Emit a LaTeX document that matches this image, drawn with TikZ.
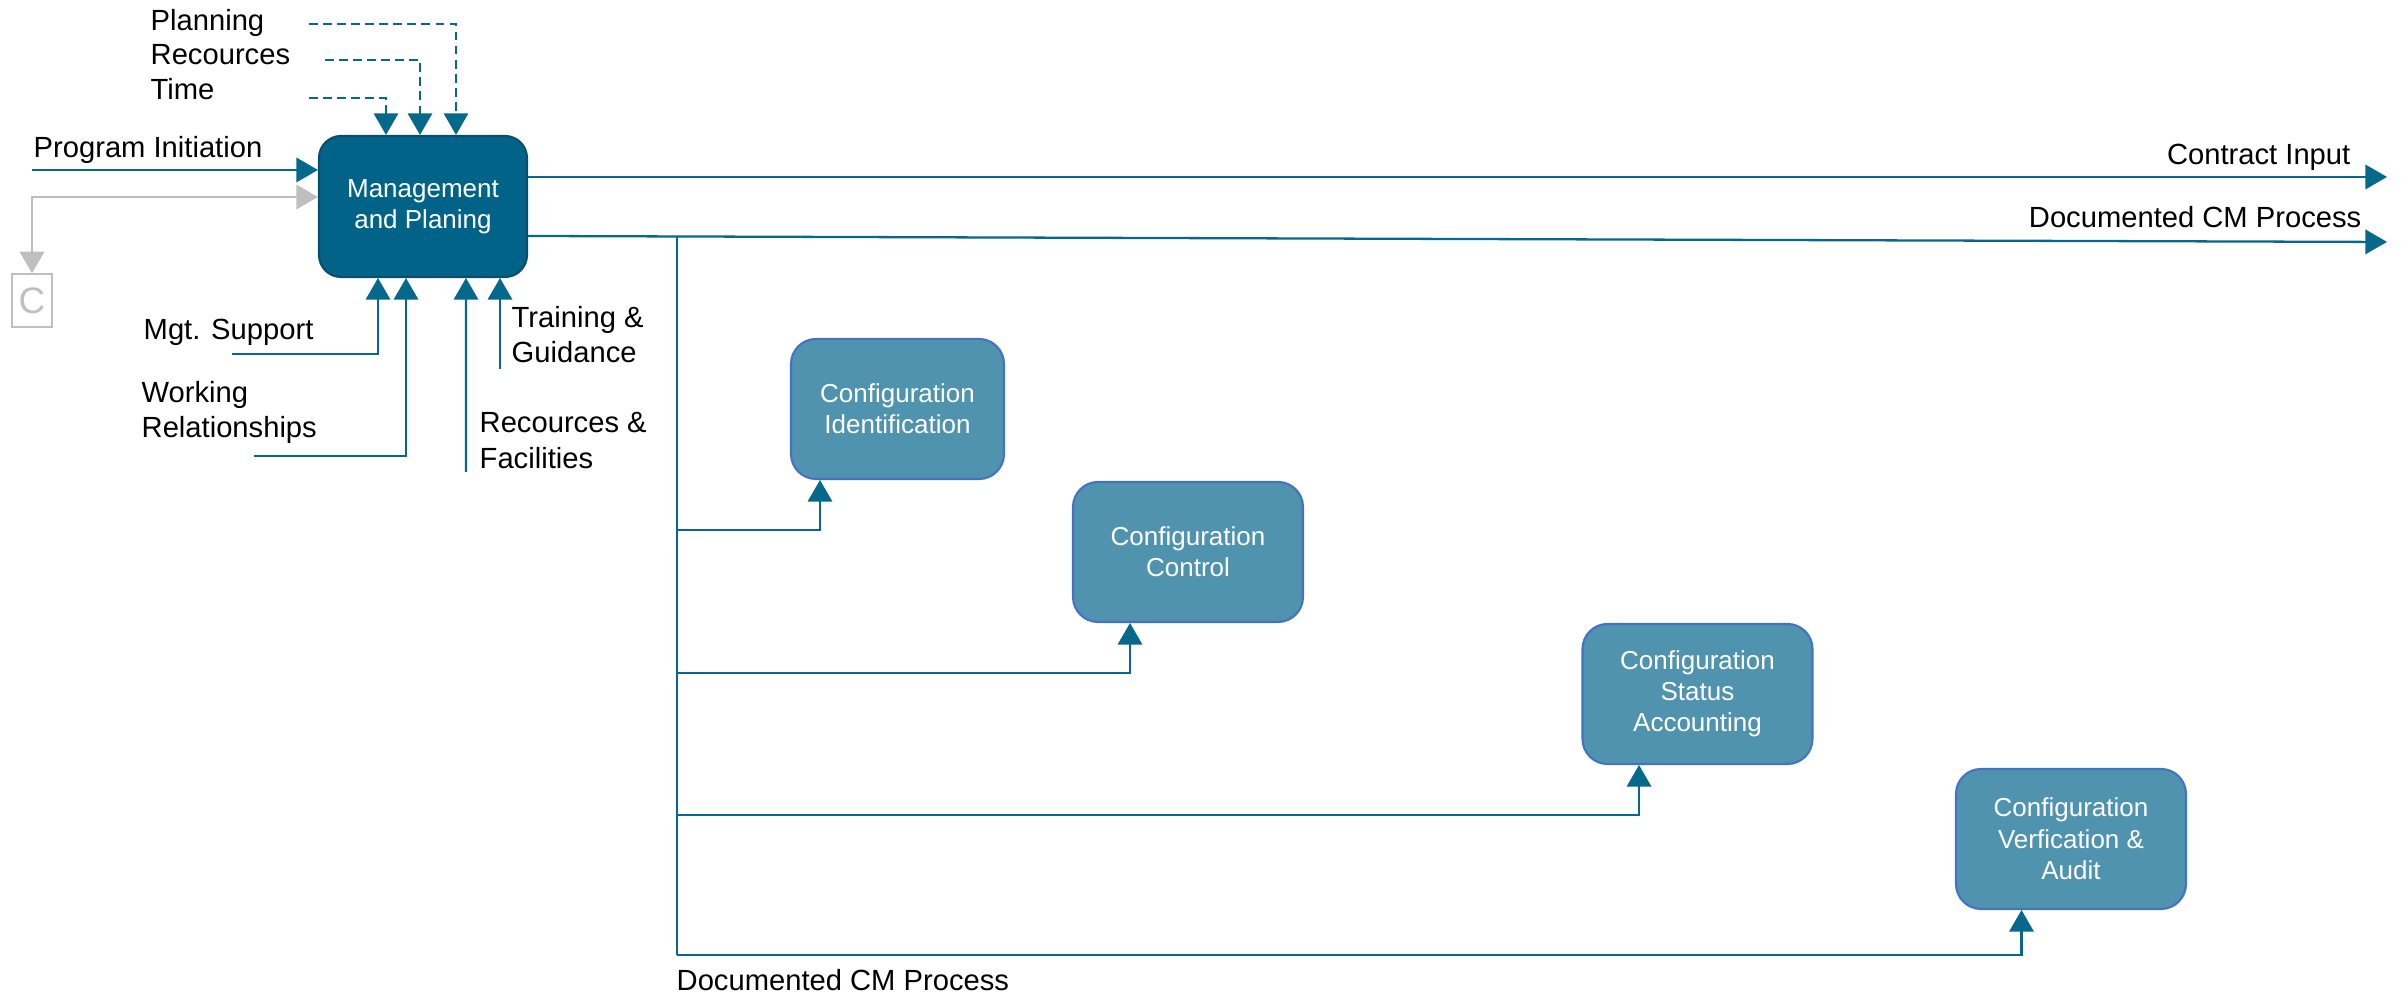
\documentclass[tikz,border=0pt]{standalone}
\usepackage{fontspec}
\setmainfont{Liberation Sans}
\usetikzlibrary{arrows}

\definecolor{tealdark}{RGB}{2,99,137}
\definecolor{tealedge}{RGB}{10,78,106}
\definecolor{tealmid}{RGB}{79,147,175}
\definecolor{blueedge}{RGB}{68,114,196}
\definecolor{tealline}{RGB}{6,104,138}
\definecolor{greyline}{RGB}{191,191,191}

\begin{document}
\begin{tikzpicture}
\tikzstyle{box main}=[draw=tealedge,fill=tealdark,line width=0.6pt,rounded corners=0.22cm,minimum width=2.08cm,minimum height=1.41cm,text=white,align=center,font=\fontsize{7.4}{8.9}\selectfont]
\tikzstyle{box config}=[draw=blueedge,fill=tealmid,line width=0.6pt,rounded corners=0.25cm,minimum width=2.3cm,minimum height=1.4cm,text=white,align=center,font=\fontsize{7.4}{8.9}\selectfont]
\tikzstyle{label text}=[inner sep=0pt,align=left,font=\fontsize{8.3}{10}\selectfont]
\tikzstyle{flow}=[draw=tealline,line width=0.65pt,-triangle 60]
\tikzstyle{control flow}=[flow,dash pattern=on 2.5pt off 1.5pt]

\useasboundingbox (0,0) rectangle (24.03,9.97);

\node[box main] (mgmt) at (4.23,7.905) {Management\\and Planing};
\node[box config,minimum width=2.13cm] (ident) at (8.975,5.88) {Configuration\\Identification};
\node[box config] (control) at (11.88,4.45) {Configuration\\Control};
\node[box config] (status) at (16.975,3.03) {Configuration\\Status\\Accounting};
\node[box config] (audit) at (20.71,1.58) {Configuration\\Verfication \&\\Audit};

\node[draw=greyline,line width=0.4pt,minimum width=0.4cm,minimum height=0.53cm,inner sep=0pt,text=greyline,font=\fontsize{10.5}{12}\selectfont] (cbox) at (0.32,6.965) {C};

\node[label text,anchor=base west] (planning) at (1.50,9.665) {Planning};
\node[label text,anchor=base west] (recources) at (1.50,9.32) {Recources};
\node[label text,anchor=base west] (time) at (1.50,8.97) {Time};
\node[label text,anchor=base west] (initiation) at (0.33,8.39) {Program Initiation};
\node[label text,anchor=base west] (support) at (1.43,6.57) {Mgt. Support};
\node[label text,anchor=north west] (working) at (1.41,6.16) {Working\\Relationships};
\node[label text,anchor=north west] (facilities) at (4.79,5.85) {Recources \&\\Facilities};
\node[label text,anchor=north west] (training) at (5.11,6.91) {Training \&\\Guidance};
\node[label text,anchor=base east] (contract) at (23.51,8.32) {Contract Input};
\node[label text,anchor=base east] (cmtop) at (23.62,7.69) {Documented CM Process};
\node[label text,anchor=base west] (cmbottom) at (6.76,0.06) {Documented CM Process};

\coordinate (p1) at (3.09,9.73);
\coordinate (p2) at (3.25,9.37);
\coordinate (p3) at (3.09,8.99);
\coordinate (i1) at (0.32,8.27);
\coordinate (s1) at (2.32,6.43);
\coordinate (w1) at (2.54,5.41);
\coordinate (f1) at (4.66,5.25);
\coordinate (g1) at (5.00,6.28);
\coordinate (o1) at (23.87,8.20);
\coordinate (o2) at (23.87,7.55);
\coordinate (trunk) at (6.77,7.605);
\coordinate (t1) at (6.77,4.67);
\coordinate (t2) at (6.77,3.24);
\coordinate (t3) at (6.77,1.82);
\coordinate (t4) at (6.77,0.42);

% controls
\draw[control flow] (p1) -| ([xshift=0.33cm]mgmt.north);
\draw[control flow] (p2) -| ([xshift=-0.03cm]mgmt.north);
\draw[control flow] (p3) -| ([xshift=-0.37cm]mgmt.north);

% inputs
\draw[flow] (i1) -- (i1 -| mgmt.west);
\draw[flow,draw=greyline,triangle 60-triangle 60] (cbox.north) |- ([yshift=0.095cm]mgmt.west);

% mechanisms
\draw[flow] (s1) -| ([xshift=-0.45cm]mgmt.south);
\draw[flow] (w1) -| ([xshift=-0.17cm]mgmt.south);
\draw[flow] (f1) -- ([xshift=0.43cm]mgmt.south);
\draw[flow] (g1) -- ([xshift=0.77cm]mgmt.south);

% outputs
\draw[flow] ([yshift=0.295cm]mgmt.east) -- (o1);
\draw[flow] ([yshift=-0.295cm]mgmt.east) -- (o2);
\draw[draw=tealline,line width=0.65pt] (trunk) -- (t4);
\draw[flow] (t1) -| ([xshift=-0.775cm]ident.south);
\draw[flow] (t2) -| ([xshift=-0.58cm]control.south);
\draw[flow] (t3) -| ([xshift=-0.585cm]status.south);
\draw[flow] (t4) -| ([xshift=-0.495cm]audit.south);
\end{tikzpicture}
\end{document}
